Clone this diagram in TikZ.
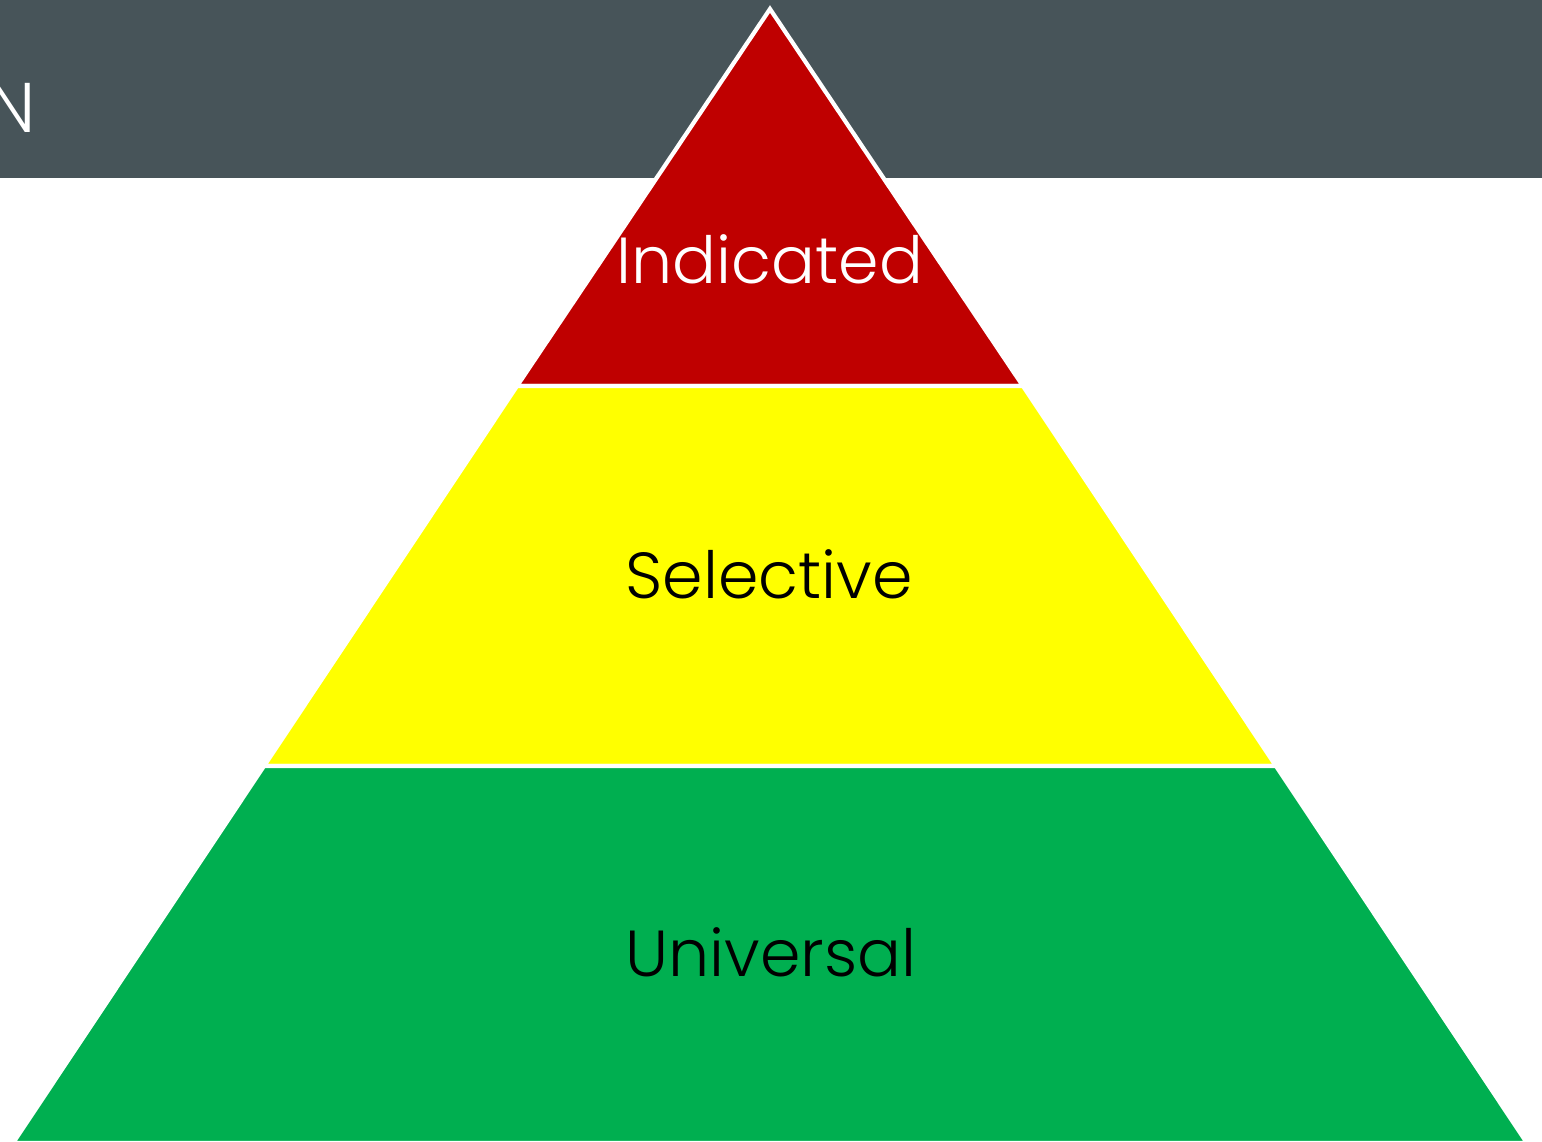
\documentclass[tikz,border=0pt]{standalone}
\usepackage{fontspec}
\setmainfont{Poppins}[UprightFont=*-Light]
\usetikzlibrary{positioning}
\definecolor{barcol}{HTML}{475459}
\definecolor{topcol}{HTML}{BF0000}
\definecolor{midcol}{HTML}{FFFF00}
\definecolor{lowcol}{HTML}{00AF50}
\begin{document}
\begin{tikzpicture}[
    x=0.01cm, y=-0.01cm,
    tier/.style={draw=white, line width=1.2pt, line join=miter},
    label/.style={font=\fontsize{18.5}{22}\selectfont, anchor=base, inner sep=0pt}
]
\useasboundingbox (0,0) rectangle (1542,1141);
\clip (0,0) rectangle (1542,1141);

% title bar
\fill[barcol] (0,0) rectangle (1542,178);
\node[label, font=\fontsize{20}{24}\selectfont, anchor=base east, text=white] (title) at (36,132) {N};

% pyramid corners
\coordinate (apex) at (770,9);
\coordinate (bl) at (13,1143);
\coordinate (br) at (1527,1143);

% tiers
\draw[tier, fill=topcol] (apex) -- (517,386) -- (1023,386) -- cycle;
\draw[tier, fill=midcol] (517,386) -- (264,766) -- (1276,766) -- (1023,386) -- cycle;
\draw[tier, fill=lowcol] (264,766) -- (bl) -- (br) -- (1276,766) -- cycle;

\node[label, text=white] (indicated) at (770,283) {Indicated};
\node[label] (selective) at (769,598) {Selective};
\node[label] (universal) at (771,976) {Universal};
\end{tikzpicture}
\end{document}
